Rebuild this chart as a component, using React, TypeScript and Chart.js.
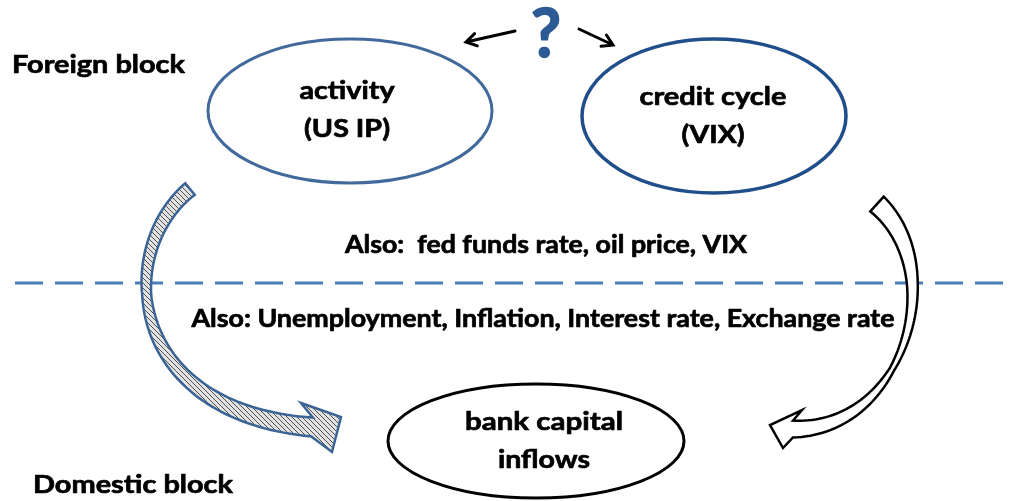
import React, { useEffect, useRef } from "react";
import { Chart, registerables } from "chart.js";

Chart.register(...registerables);

const W = 1011;
const H = 501;

// Nodes (ellipses): centres, radii, labels
const nodeLabels = [["activity", "(US IP)"], ["credit cycle", "(VIX)"], ["bank capital", "inflows"]];
const nodeCenters = [[350, 111], [714, 116], [536, 441]];
const nodeRadii = [[142, 72], [132, 77], [148, 57]];
const nodeColors = ["#41699c", "#1f4e8a", "#000000"];
const nodeLineWidths = [3, 3.5, 3];
const labelCenterX = [347, 713, 544];
const labelBaselines = [[99, 137], [105, 143], [430, 468]];
const labelWidths = [[95, 86], [147, 63], [158, 92]];

// Free texts
const freeTexts = ["Foreign block", "Domestic block", "Also:  fed funds rate, oil price, VIX", "Also: Unemployment, Inflation, Interest rate, Exchange rate"];
const freeTextX = [12, 33, 546, 543];
const freeTextAlign = ["left", "left", "center", "center"];
const freeTextBaseline = [73, 493, 253, 327];
const freeTextWidths = [173, 200, 402, 703];

// Divider
const dividerY = 283;
const dividerX = [15, 1005];

// Curved block arrows: cubic Bezier centre line, widths along t, head corners + tip
const leftArrowCtrl = [[190, 189], [115, 250], [125, 412], [312, 427]];
const leftArrowWidths = [[0, 15], [0.4, 9], [1, 19]];
const leftArrowHead = [[301, 403], [332, 452], [341, 417]];
const rightArrowCtrl = [[877, 204], [950, 270], [905, 430], [793, 429]];
const rightArrowWidths = [[0, 20], [0.3, 11], [0.6, 5], [1, 17]];
const rightArrowHead = [[802, 410], [783, 448], [770, 425]];

// Small arrows around the question mark
const smallArrows = [[[515, 31], [466, 42]], [[579, 29], [613, 45]]];
const questionPos = [546, 57];

function widthAt(ws: number[][], t: number) {
  for (let i = 0; i < ws.length - 1; i++) {
    const [t0, w0] = ws[i];
    const [t1, w1] = ws[i + 1];
    if (t >= t0 && t <= t1) return w0 + ((w1 - w0) * (t - t0)) / (t1 - t0);
  }
  return ws[ws.length - 1][1];
}

function bez(p: number[][], t: number) {
  const u = 1 - t;
  const a = u * u * u, b = 3 * u * u * t, c = 3 * u * t * t, d = t * t * t;
  const x = a * p[0][0] + b * p[1][0] + c * p[2][0] + d * p[3][0];
  const y = a * p[0][1] + b * p[1][1] + c * p[2][1] + d * p[3][1];
  const dx = 3 * u * u * (p[1][0] - p[0][0]) + 6 * u * t * (p[2][0] - p[1][0]) + 3 * t * t * (p[3][0] - p[2][0]);
  const dy = 3 * u * u * (p[1][1] - p[0][1]) + 6 * u * t * (p[2][1] - p[1][1]) + 3 * t * t * (p[3][1] - p[2][1]);
  return { x, y, dx, dy };
}

function bandPath(ctx: CanvasRenderingContext2D, ctrl: number[][], ws: number[][], head: number[][]) {
  const N = 80;
  const A: number[][] = [];
  const B: number[][] = [];
  for (let i = 0; i <= N; i++) {
    const t = i / N;
    const { x, y, dx, dy } = bez(ctrl, t);
    const l = Math.hypot(dx, dy) || 1;
    const nx = -dy / l, ny = dx / l;
    const w = widthAt(ws, t) / 2;
    A.push([x + nx * w, y + ny * w]);
    B.push([x - nx * w, y - ny * w]);
  }
  const aEnd = A[N];
  const d0 = Math.hypot(head[0][0] - aEnd[0], head[0][1] - aEnd[1]);
  const d1 = Math.hypot(head[1][0] - aEnd[0], head[1][1] - aEnd[1]);
  const cA = d0 < d1 ? head[0] : head[1];
  const cB = d0 < d1 ? head[1] : head[0];
  ctx.beginPath();
  ctx.moveTo(A[0][0], A[0][1]);
  for (let i = 1; i <= N; i++) ctx.lineTo(A[i][0], A[i][1]);
  ctx.lineTo(cA[0], cA[1]);
  ctx.lineTo(head[2][0], head[2][1]);
  ctx.lineTo(cB[0], cB[1]);
  for (let i = N; i >= 0; i--) ctx.lineTo(B[i][0], B[i][1]);
  ctx.closePath();
}

function makeHatch(ctx: CanvasRenderingContext2D) {
  const c = document.createElement("canvas");
  c.width = 5;
  c.height = 5;
  const g = c.getContext("2d")!;
  g.fillStyle = "#e2e2e2";
  g.fillRect(0, 0, 5, 5);
  g.strokeStyle = "#2a2a2a";
  g.lineWidth = 0.8;
  g.beginPath();
  g.moveTo(-1, -1); g.lineTo(6, 6);
  g.moveTo(-1, 4); g.lineTo(1, 6);
  g.moveTo(4, -1); g.lineTo(6, 1);
  g.stroke();
  return ctx.createPattern(c, "repeat");
}

const FONT = "Lato, 'Open Sans', sans-serif";
const FONT_SIZE = 25.5;

const diagramPlugin = {
  id: "diagram",
  afterDraw(chart: any) {
    const ctx: CanvasRenderingContext2D = chart.ctx;
    const xs = chart.scales.x, ys = chart.scales.y;
    const X = (v: number) => xs.getPixelForValue(v);
    const Y = (v: number) => ys.getPixelForValue(v);
    const P = (p: number[]) => [X(p[0]), Y(p[1])];
    ctx.save();

    const font = `bold ${FONT_SIZE}px ${FONT}`;

    const drawText = (s: string, x: number, y: number, align: string, target: number) => {
      ctx.save();
      ctx.font = font;
      const sx = target / ctx.measureText(s).width;
      ctx.translate(x, y);
      ctx.scale(sx, 1);
      ctx.textAlign = align as CanvasTextAlign;
      ctx.textBaseline = "alphabetic";
      ctx.fillText(s, 0, 0);
      ctx.strokeText(s, 0, 0);
      ctx.restore();
    };

    // divider
    ctx.strokeStyle = "#4a7ebb";
    ctx.lineWidth = 3;
    ctx.setLineDash([28, 12]);
    ctx.beginPath();
    ctx.moveTo(X(dividerX[0]), Y(dividerY));
    ctx.lineTo(X(dividerX[1]), Y(dividerY));
    ctx.stroke();
    ctx.setLineDash([]);

    // ellipses
    nodeCenters.forEach((c, i) => {
      ctx.beginPath();
      const rx = Math.abs(X(c[0] + nodeRadii[i][0]) - X(c[0]));
      const ry = Math.abs(Y(c[1] + nodeRadii[i][1]) - Y(c[1]));
      ctx.ellipse(X(c[0]), Y(c[1]), rx, ry, 0, 0, Math.PI * 2);
      ctx.strokeStyle = nodeColors[i];
      ctx.lineWidth = nodeLineWidths[i];
      ctx.stroke();
    });

    // left hatched arrow
    ctx.lineJoin = "miter";
    bandPath(ctx, leftArrowCtrl.map(P), leftArrowWidths, leftArrowHead.map(P));
    ctx.fillStyle = makeHatch(ctx) || "#ddd";
    ctx.fill();
    ctx.strokeStyle = "#3b6496";
    ctx.lineWidth = 2.5;
    ctx.stroke();

    // right white arrow
    bandPath(ctx, rightArrowCtrl.map(P), rightArrowWidths, rightArrowHead.map(P));
    ctx.fillStyle = "#ffffff";
    ctx.fill();
    ctx.strokeStyle = "#000000";
    ctx.lineWidth = 2.5;
    ctx.stroke();

    // small arrows
    ctx.strokeStyle = "#000";
    ctx.lineWidth = 3;
    ctx.lineCap = "round";
    smallArrows.forEach(([a, b]) => {
      const [x0, y0] = P(a);
      const [x1, y1] = P(b);
      const ang = Math.atan2(y1 - y0, x1 - x0);
      ctx.beginPath();
      ctx.moveTo(x0, y0);
      ctx.lineTo(x1, y1);
      const hl = 12;
      ctx.moveTo(x1 - hl * Math.cos(ang - 0.55), y1 - hl * Math.sin(ang - 0.55));
      ctx.lineTo(x1, y1);
      ctx.lineTo(x1 - hl * Math.cos(ang + 0.55), y1 - hl * Math.sin(ang + 0.55));
      ctx.stroke();
    });
    ctx.lineCap = "butt";

    // question mark
    ctx.fillStyle = "#2d5a94";
    ctx.strokeStyle = "#2d5a94";
    ctx.lineWidth = 1.5;
    ctx.font = `bold 66px ${FONT}`;
    ctx.textAlign = "center";
    ctx.textBaseline = "alphabetic";
    ctx.fillText("?", X(questionPos[0]), Y(questionPos[1]));
    ctx.strokeText("?", X(questionPos[0]), Y(questionPos[1]));

    // node labels
    ctx.fillStyle = "#000";
    ctx.strokeStyle = "#000";
    ctx.lineWidth = 0.7;
    ctx.lineJoin = "round";
    nodeLabels.forEach((lines, i) => {
      lines.forEach((s, j) => {
        drawText(s, X(labelCenterX[i]), Y(labelBaselines[i][j]), "center", labelWidths[i][j]);
      });
    });

    // free texts
    freeTexts.forEach((s, i) => {
      drawText(s, X(freeTextX[i]), Y(freeTextBaseline[i]), freeTextAlign[i], freeTextWidths[i]);
    });

    ctx.restore();
  },
};

export default function App() {
  const ref = useRef<HTMLCanvasElement | null>(null);
  useEffect(() => {
    let chart: Chart | null = null;
    let cancelled = false;
    const make = () => {
      if (cancelled || !ref.current) return;
      chart = new Chart(ref.current, {
        type: "scatter",
        data: {
          datasets: [
            {
              data: nodeCenters.map((c) => ({ x: c[0], y: c[1] })),
              pointRadius: 0,
              showLine: false,
            },
          ],
        },
        options: {
          animation: false,
          responsive: true,
          maintainAspectRatio: false,
          layout: { padding: 0 },
          plugins: { legend: { display: false }, tooltip: { enabled: false } },
          events: [],
          scales: {
            x: { type: "linear", min: 0, max: W, display: false },
            y: { type: "linear", min: 0, max: H, reverse: true, display: false },
          },
        },
        plugins: [diagramPlugin],
      });
    };
    const fonts: any = (document as any).fonts;
    if (fonts && fonts.load) {
      Promise.all([fonts.load(`bold 25px Lato`), fonts.load(`bold 66px Lato`)]).then(make, make);
    } else make();
    return () => {
      cancelled = true;
      if (chart) chart.destroy();
    };
  }, []);
  return (
    <div style={{ position: "absolute", left: 0, top: 0, width: W, height: H, background: "#fff" }}>
      <canvas ref={ref} />
    </div>
  );
}
